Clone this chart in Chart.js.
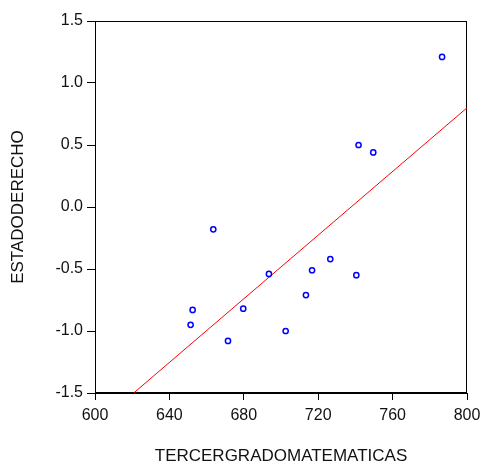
<!DOCTYPE html>
<html>
<head>
<meta charset="utf-8">
<script src="https://cdn.jsdelivr.net/npm/chart.js@4/dist/chart.umd.min.js"></script>
<style>
html,body{margin:0;padding:0;background:#fff;}
#wrap{width:481px;height:465px;}
</style>
</head>
<body>
<div id="wrap"><canvas id="c" width="481" height="465"></canvas></div>
<script>
// Data
const tercerGradoMatematicas = [663.6, 693.5, 726.5, 716.7, 740.5, 713.4, 652.5, 679.7, 651.4, 702.5, 671.5, 741.7, 749.6, 786.6];
const estadoDerecho          = [-0.18, -0.54, -0.42, -0.51, -0.55, -0.71, -0.83, -0.82, -0.95, -1.00, -1.08, 0.50, 0.44, 1.21];
const fitX = [620.8, 800];
const fitY = [-1.5, 0.80];
const xTicks = [600, 640, 680, 720, 760, 800];
const yTicks = [-1.5, -1.0, -0.5, 0.0, 0.5, 1.0, 1.5];

const points = tercerGradoMatematicas.map((x, i) => ({x: x, y: estadoDerecho[i]}));
const fitLine = fitX.map((x, i) => ({x: x, y: fitY[i]}));

const boxPlugin = {
  id: 'box',
  beforeDatasetsDraw(chart) {
    const a = chart.chartArea, ctx = chart.ctx;
    ctx.save();
    ctx.strokeStyle = '#000';
    ctx.lineWidth = 1;
    ctx.strokeRect(Math.round(a.left) + 0.5, Math.round(a.top) + 0.5, Math.round(a.right - a.left) - 1, Math.round(a.bottom - a.top) - 1);
    ctx.restore();
  }
};

new Chart(document.getElementById('c'), {
  type: 'scatter',
  data: {
    datasets: [
      {
        type: 'line',
        data: fitLine,
        borderColor: '#ff0000',
        borderWidth: 1,
        pointRadius: 0,
        fill: false,
        order: 2
      },
      {
        data: points,
        borderColor: '#0000ff',
        backgroundColor: '#ffffff',
        borderWidth: 1.5,
        pointRadius: 2.6,
        order: 1
      }
    ]
  },
  options: {
    responsive: false,
    animation: false,
    devicePixelRatio: 1,
    layout: {padding: {top: 21, right: 14, left: 0, bottom: 0}},
    plugins: {legend: {display: false}, tooltip: {enabled: false}},
    scales: {
      x: {
        type: 'linear',
        min: 600, max: 800,
        afterBuildTicks(s) { s.ticks = xTicks.map(v => ({value: v})); },
        afterFit(s) { s.height = 72; s.paddingLeft = 0; s.paddingRight = 0; },
        grid: {display: true, drawOnChartArea: false, drawTicks: true, tickLength: 7, color: '#000', tickColor: '#000'},
        border: {display: true, color: '#000'},
        ticks: {color: '#111', padding: 6, font: {family: 'Liberation Sans', size: 16}, maxRotation: 0, callback: v => String(v)},
        title: {display: true, text: 'TERCERGRADOMATEMATICAS', color: '#111', font: {family: 'Liberation Sans', size: 17, lineHeight: 1}, padding: {top: 0, bottom: 0}}
      },
      y: {
        type: 'linear',
        min: -1.5, max: 1.5,
        afterBuildTicks(s) { s.ticks = yTicks.map(v => ({value: v})); },
        afterFit(s) { s.width = 95; s.paddingTop = 0; s.paddingBottom = 0; },
        grid: {display: true, drawOnChartArea: false, drawTicks: true, tickLength: 8, color: '#000', tickColor: '#000'},
        border: {display: true, color: '#000'},
        ticks: {color: '#111', padding: 4, font: {family: 'Liberation Sans', size: 16}, callback: v => Number(v).toFixed(1)},
        title: {display: true, text: 'ESTADODERECHO', color: '#111', font: {family: 'Liberation Sans', size: 17, lineHeight: 1}, padding: {top: 9.5, bottom: 0}}
      }
    }
  },
  plugins: [boxPlugin]
});
</script>
</body>
</html>
